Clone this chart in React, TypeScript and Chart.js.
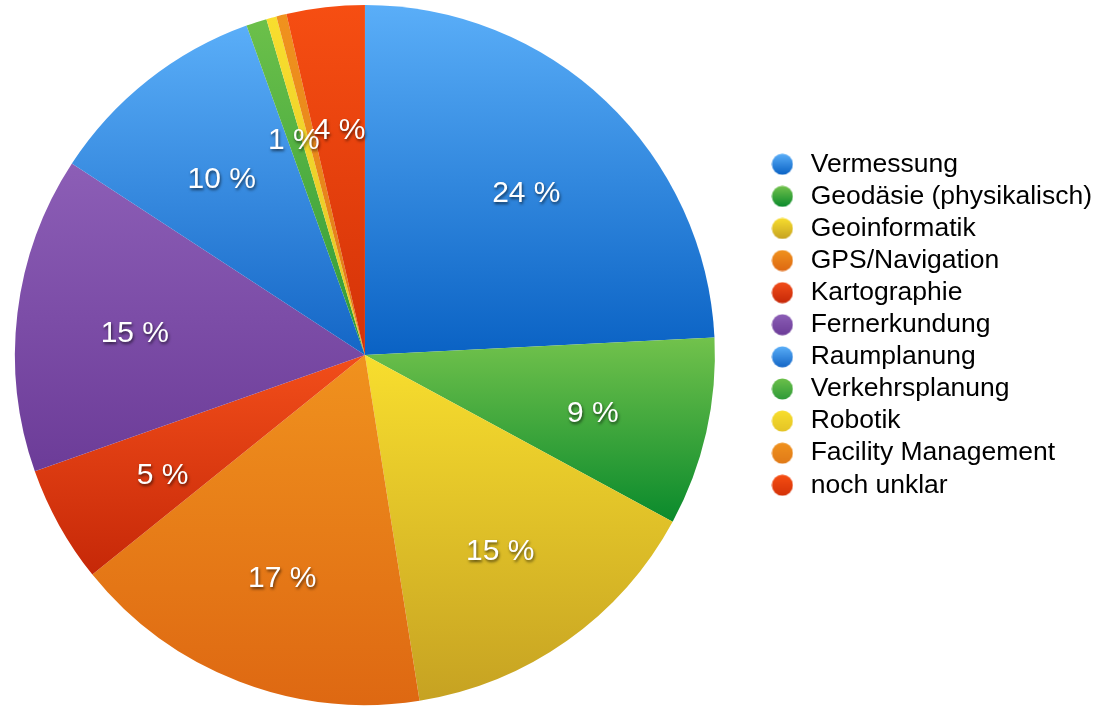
import { useEffect, useRef } from 'react';
import { Chart, registerables } from 'chart.js';

Chart.register(...registerables);

const categories = [
  'Vermessung',
  'Geodäsie (physikalisch)',
  'Geoinformatik',
  'GPS/Navigation',
  'Kartographie',
  'Fernerkundung',
  'Raumplanung',
  'Verkehrsplanung',
  'Robotik',
  'Facility Management',
  'noch unklar',
];
const shares = [24.2, 8.7, 14.6, 16.7, 5.4, 14.6, 10.3, 0.95, 0.47, 0.47, 3.6];
const topColors = ['#5aaef8', '#72c24c', '#f8de2e', '#f0921e', '#f24e1a', '#8c5eb6', '#5aaef8', '#6cc04a', '#f8de2e', '#f0921e', '#f64e12'];
const bottomColors = ['#0a62c4', '#0a8a2c', '#c6a222', '#de6812', '#c62808', '#6c3c98', '#1466c6', '#2e9a38', '#e4c426', '#e07a18', '#d43208'];

const FONT = '"Liberation Sans", Arial, Helvetica, sans-serif';

function markerCanvas(i: number): HTMLCanvasElement {
  const c = document.createElement('canvas');
  c.width = 22;
  c.height = 22;
  const g = c.getContext('2d')!;
  const grad = g.createLinearGradient(0, 0.5, 0, 21.5);
  grad.addColorStop(0, topColors[i]);
  grad.addColorStop(1, bottomColors[i]);
  g.fillStyle = grad;
  g.beginPath();
  g.arc(11, 11, 10.5, 0, Math.PI * 2);
  g.fill();
  return c;
}

function inRange(base: number, s: number, e: number) {
  for (let k = -2; k <= 2; k++) {
    const a = base + 2 * Math.PI * k;
    if (a >= s && a <= e) return true;
  }
  return false;
}

const sliceGradients = {
  id: 'sliceGradients',
  beforeDatasetsDraw(chart: any) {
    const ctx = chart.ctx;
    chart.getDatasetMeta(0).data.forEach((arc: any, i: number) => {
      const { x, y, startAngle, endAngle, outerRadius: R } = arc.getProps(
        ['x', 'y', 'startAngle', 'endAngle', 'outerRadius'],
        true
      );
      const ys = [y, y + Math.sin(startAngle) * R, y + Math.sin(endAngle) * R];
      let ymin = Math.min(...ys);
      let ymax = Math.max(...ys);
      if (inRange(-Math.PI / 2, startAngle, endAngle)) ymin = y - R;
      if (inRange(Math.PI / 2, startAngle, endAngle)) ymax = y + R;
      if (ymax - ymin < 1) ymax = ymin + 1;
      const g = ctx.createLinearGradient(0, ymin, 0, ymax);
      g.addColorStop(0, topColors[i]);
      g.addColorStop(1, bottomColors[i]);
      arc.options = { ...arc.options, backgroundColor: g, borderColor: g };
    });
  },
};

const pctLabels = {
  id: 'pctLabels',
  afterDatasetsDraw(chart: any) {
    const ctx = chart.ctx;
    const meta = chart.getDatasetMeta(0);
    ctx.save();
    ctx.font = `30px ${FONT}`;
    ctx.textAlign = 'center';
    ctx.textBaseline = 'middle';
    ctx.fillStyle = '#ffffff';
    ctx.shadowColor = 'rgba(0,0,0,0.6)';
    ctx.shadowOffsetX = 1;
    ctx.shadowOffsetY = 2;
    ctx.shadowBlur = 3;
    meta.data.forEach((arc: any, i: number) => {
      const r = Math.round(shares[i]);
      if (r < 1) return;
      const { x, y, startAngle, endAngle, outerRadius } = arc.getProps(
        ['x', 'y', 'startAngle', 'endAngle', 'outerRadius'],
        true
      );
      const mid = (startAngle + endAngle) / 2;
      const rr = outerRadius * 0.665;
      ctx.fillText(`${r} %`, x + Math.cos(mid) * rr + 1, y + Math.sin(mid) * rr + 7);
    });
    ctx.restore();
  },
};

export default function App() {
  const ref = useRef<HTMLCanvasElement>(null);
  useEffect(() => {
    if (!ref.current) return;
    const markers = categories.map((_, i) => markerCanvas(i));
    const chart = new Chart(ref.current, {
      type: 'pie',
      data: {
        labels: categories,
        datasets: [
          {
            data: shares,
            backgroundColor: topColors,
            borderWidth: 0,
          },
        ],
      },
      options: {
        animation: false,
        responsive: false,
        layout: { padding: { left: 0, top: 5, bottom: 1, right: 9 } },
        plugins: {
          tooltip: { enabled: false },
          legend: {
            position: 'right',
            title: { display: true, text: '', font: { size: 10 }, padding: { top: -72.5, bottom: 0 } },
            labels: {
              usePointStyle: true,
              pointStyleWidth: 30,
              boxHeight: 15,
              padding: 5.6,
              color: '#000000',
              font: { family: FONT, size: 26.5 },
              generateLabels: () =>
                categories.map((text, i) => ({
                  text,
                  fillStyle: topColors[i],
                  strokeStyle: topColors[i],
                  lineWidth: 0,
                  pointStyle: markers[i],
                  hidden: false,
                  index: i,
                  fontColor: '#000000',
                })),
            },
          },
        },
      },
      plugins: [sliceGradients, pctLabels],
    } as any);
    return () => chart.destroy();
  }, []);
  return (
    <div style={{ position: 'absolute', left: -32, top: 0, width: 1143, height: 706 }}>
      <canvas ref={ref} width={1143} height={706} />
    </div>
  );
}
